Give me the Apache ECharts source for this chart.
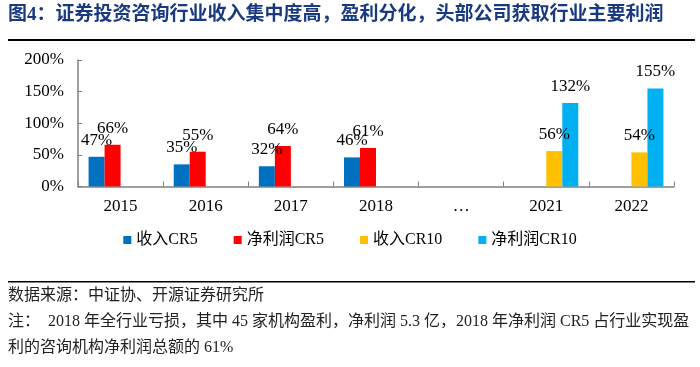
<!DOCTYPE html>
<html><head><meta charset="utf-8">
<script src="https://cdn.jsdelivr.net/npm/echarts@6/dist/echarts.min.js"></script>
<style>html,body{margin:0;padding:0;background:#fff}#c{width:700px;height:367px}</style>
</head><body><div id="c"></div>
<script>
var categories = ['2015','2016','2017','2018','…','2021','2022'];
var revenueCR5 = [47, 35, 32, 46, null, null, null];
var profitCR5 = [66, 55, 64, 61, null, null, null];
var revenueCR10 = [null, null, null, null, null, 56, 54];
var profitCR10 = [null, null, null, null, null, 132, 155];
var seriesNames = ['收入CR5','净利润CR5','收入CR10','净利润CR10'];
var yTicks = [0, 50, 100, 150, 200];

var SERIF = '"Liberation Serif","Times New Roman","Noto Sans CJK SC",serif';
var colors = ['#0070C0','#FF0000','#FFC000','#00B0F0'];
var chart = echarts.init(document.getElementById('c'));
function mk(name, data, color){
  return {name:name, type:'bar', data:data, barWidth:16, barGap:'0%',
    itemStyle:{color:color},
    label:{show:true, position:'top', distance:8, color:'#000', fontFamily:SERIF, fontSize:17,
      formatter:function(p){return p.value==null?'':p.value+'%';}}};
}
chart.setOption({
  animation:false,
  grid:{left:78, right:26, top:60, bottom:180.5},
  legend:{data:seriesNames, bottom:114, left:'center', itemWidth:8, itemHeight:8, icon:'rect', itemGap:36,
    textStyle:{fontFamily:SERIF, fontSize:16, color:'#000'}},
  xAxis:{type:'category', data:categories,
    axisLine:{lineStyle:{color:'#808080', width:1.5}},
    axisTick:{show:true, inside:true, length:5, lineStyle:{color:'#808080'}},
    axisLabel:{color:'#000', fontFamily:SERIF, fontSize:17, margin:12}},
  yAxis:{type:'value', min:yTicks[0], max:yTicks[yTicks.length-1], interval:50,
    splitLine:{show:false},
    axisLine:{show:true, lineStyle:{color:'#808080', width:1.5}},
    axisTick:{show:true, inside:true, length:4, lineStyle:{color:'#808080'}},
    axisLabel:{color:'#000', fontFamily:SERIF, fontSize:17, margin:14, formatter:'{value}%'}},
  series:[mk(seriesNames[0], revenueCR5, colors[0]), mk(seriesNames[1], profitCR5, colors[1]),
          mk(seriesNames[2], revenueCR10, colors[2]), mk(seriesNames[3], profitCR10, colors[3])],
  graphic:[
    {type:'text', left:8, top:6, style:{text:'图4：证券投资咨询行业收入集中度高，盈利分化，头部公司获取行业主要利润',
      fontFamily:SERIF, fontSize:19, fontWeight:'bold', fill:'#1A3A80'}},
    {type:'rect', shape:{x:8, y:39, width:687, height:2}, style:{fill:'#000'}},
    {type:'rect', shape:{x:8, y:281, width:687, height:1.5}, style:{fill:'#000'}},
    {type:'text', left:8, top:288, style:{text:'数据来源：中证协、开源证券研究所', fontFamily:SERIF, fontSize:16, fill:'#222'}},
    {type:'text', left:8, top:314, style:{text:'注：  2018 年全行业亏损，其中 45 家机构盈利，净利润 5.3 亿，2018 年净利润 CR5 占行业实现盈', fontFamily:SERIF, fontSize:16, fill:'#222'}},
    {type:'text', left:8, top:340, style:{text:'利的咨询机构净利润总额的 61%', fontFamily:SERIF, fontSize:16, fill:'#222'}}
  ]
});
</script></body></html>
